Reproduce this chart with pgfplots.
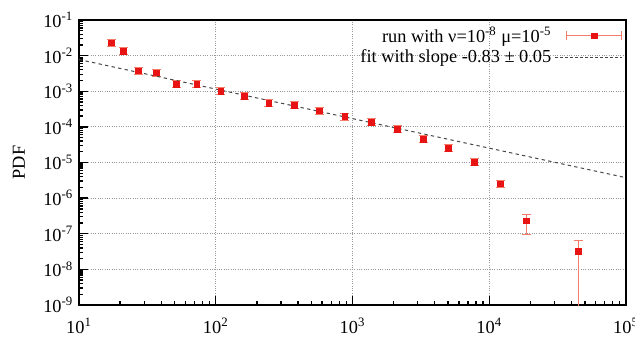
\documentclass[border=0pt]{standalone}
\usepackage{fontspec}
\setmainfont{Liberation Serif}
\usepackage{pgfplots}
\usepackage{pgfplotstable}
\pgfplotsset{compat=1.18}
\definecolor{errcol}{RGB}{245,125,105}
\definecolor{mkcol}{RGB}{232,20,20}
\definecolor{fitcol}{RGB}{70,70,70}
\pgfplotstableread{
x y ep em
17.3 0.0227 0.0057 0.0045
21.0 0.0133 0.0033 0.0027
27.2 0.00373 0.00093 0.00075
36.8 0.00327 0.00082 0.00065
51.6 0.00158 0.00040 0.00032
72.9 0.00156 0.00039 0.00031
109 0.00101 0.00025 0.00020
162 7.15e-4 1.8e-4 1.43e-4
245 4.55e-4 1.14e-4 9.1e-5
377 4.0e-4 1.0e-4 8.0e-5
570 2.82e-4 7.0e-5 5.6e-5
879 1.95e-4 4.9e-5 3.9e-5
1368 1.36e-4 3.4e-5 2.7e-5
2133 8.5e-5 2.1e-5 1.7e-5
3290 4.47e-5 1.1e-5 8.9e-6
5035 2.5e-5 6.2e-6 5.0e-6
7762 1.01e-5 2.5e-6 2.0e-6
12100 2.5e-6 6.5e-7 5.0e-7
18750 2.3e-7 1.24e-7 1.33e-7
44700 3.17e-8 3.28e-8 3.16e-8
}\datatable
\pgfplotstableread{
x y
10 7.78e-3
100000 3.75e-6
}\fittable
\begin{document}
\begin{tikzpicture}[font=\fontsize{11}{13}\selectfont]
\begin{axis}[name=ax, scale only axis, width=328.2pt, height=171pt,
  xmode=log, ymode=log, log basis x=10, log basis y=10,
  xmin=10, xmax=1e5, ymin=1e-9, ymax=1e-1,
  max space between ticks=12,
  xticklabel={10\textsuperscript{\pgfmathparse{int(round(\tick))}\pgfmathresult}},
  yticklabel={10\textsuperscript{\pgfmathparse{int(round(\tick))}\pgfmathresult}},
  xticklabel style={yshift=-4.5pt},
  tick pos=left, tick align=inside,
  major tick length=5.4pt, minor tick length=2.6pt,
  axis line style={line width=1pt},
  every tick/.style={black, line width=0.8pt},
  grid=major, grid style={densely dotted, gray!80, line width=0.6pt},
  ylabel={PDF},
  every axis y label/.style={at={(rel axis cs:0,0.5)}, xshift=-36pt, rotate=90, anchor=center},
  legend plot pos=right,
  legend cell align=right,
  legend style={at={(1,1)}, anchor=north east, draw=none, fill=none,
    row sep=-1pt, inner sep=2pt, font=\fontsize{11}{13}\selectfont},
]
\addplot[only marks, mark=square*, mark size=1.7pt, color=mkcol,
  error bars/.cd, y dir=both, y explicit,
  error bar style={color=errcol, line width=0.6pt},
  error mark options={rotate=90, mark size=2.7pt, color=errcol, line width=0.6pt}]
  table[x=x, y=y, y error plus=ep, y error minus=em]{\datatable};
\addlegendimage{legend image code/.code={
  \draw[errcol, line width=0.6pt] (7pt,0pt) -- (40pt,0pt);
  \draw[errcol, line width=0.6pt] (7pt,-2.7pt) -- (7pt,2.7pt);
  \draw[errcol, line width=0.6pt] (40pt,-2.7pt) -- (40pt,2.7pt);
  \fill[mkcol] (21.8pt,-1.7pt) rectangle (25.2pt,1.7pt);}}
\addplot[fitcol, line width=0.6pt, dash pattern=on 2pt off 2pt, forget plot] table[x=x,y=y]{\fittable};
\addlegendimage{legend image code/.code={
  \draw[fitcol, line width=0.6pt, dash pattern=on 1.5pt off 1.5pt] (0pt,0pt) -- (40pt,0pt);}}
\legend{{}, {run with ν=10\textsuperscript{-8} μ=10\textsuperscript{-5}}, {fit with slope -0.83 ± 0.05}}
\end{axis}
\pgfresetboundingbox
\path[use as bounding box] ([xshift=-47.4pt,yshift=-21.6pt]ax.south west) rectangle ([xshift=5.4pt,yshift=12pt]ax.north east);
\end{tikzpicture}
\end{document}
